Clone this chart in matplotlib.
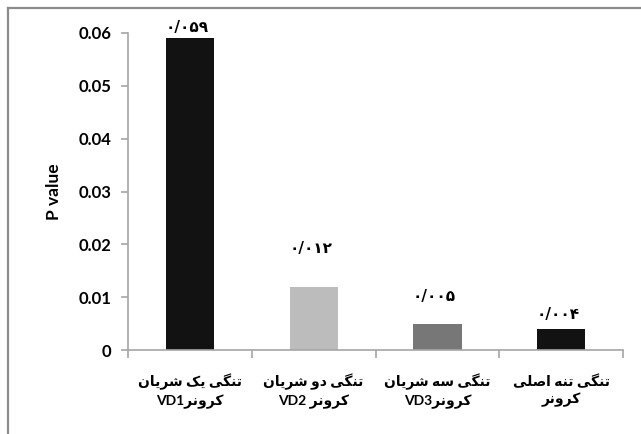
import matplotlib
matplotlib.use("Agg")
import matplotlib.pyplot as plt
from matplotlib.lines import Line2D

# data
line1 = ["تنگی یک شریان", "تنگی دو شریان", "تنگی سه شریان", "تنگی تنه اصلی"]
line2 = ["کرونرVD1", "کرونر VD2", "کرونرVD3", "کرونر"]
p_values = [0.059, 0.012, 0.005, 0.004]
value_labels = ["۰/۰۵۹", "۰/۰۱۲", "۰/۰۰۵", "۰/۰۰۴"]
bar_colors = ["#121212", "#bcbcbc", "#777777", "#121212"]
label_offsets = [2, 22, 14, 5]  # points above bar, as placed in the original

# minimal arabic shaping (isolated, final, initial, medial)
FORMS = {
    "ا": ("\uFE8D", "\uFE8E", None, None),
    "ت": ("\uFE95", "\uFE96", "\uFE97", "\uFE98"),
    "د": ("\uFEA9", "\uFEAA", None, None),
    "ر": ("\uFEAD", "\uFEAE", None, None),
    "س": ("\uFEB1", "\uFEB2", "\uFEB3", "\uFEB4"),
    "ش": ("\uFEB5", "\uFEB6", "\uFEB7", "\uFEB8"),
    "ص": ("\uFEB9", "\uFEBA", "\uFEBB", "\uFEBC"),
    "ل": ("\uFEDD", "\uFEDE", "\uFEDF", "\uFEE0"),
    "ن": ("\uFEE5", "\uFEE6", "\uFEE7", "\uFEE8"),
    "ه": ("\uFEE9", "\uFEEA", "\uFEEB", "\uFEEC"),
    "و": ("\uFEED", "\uFEEE", None, None),
    "ی": ("\uFBFC", "\uFBFD", "\uFBFE", "\uFBFF"),
    "ک": ("\uFB8E", "\uFB8F", "\uFB90", "\uFB91"),
    "گ": ("\uFB92", "\uFB93", "\uFB94", "\uFB95"),
}


def joins_next(c):
    return c in FORMS and FORMS[c][2] is not None


def shape(word):
    out = []
    for i, c in enumerate(word):
        if c not in FORMS:
            out.append(c)
            continue
        prev = word[i - 1] if i > 0 else ""
        nxt = word[i + 1] if i + 1 < len(word) else ""
        jp = joins_next(prev)
        jn = joins_next(c) and nxt in FORMS
        if jp and jn:
            out.append(FORMS[c][3])
        elif jp:
            out.append(FORMS[c][1])
        elif jn:
            out.append(FORMS[c][2])
        else:
            out.append(FORMS[c][0])
    return "".join(out)


def visual(text):
    # split into arabic / latin runs, then lay them out right to left
    runs = []
    for c in text:
        kind = "l" if c.isascii() and c != " " else "a"
        if runs and runs[-1][0] == kind:
            runs[-1][1] += c
        else:
            runs.append([kind, c])
    parts = []
    for kind, s in reversed(runs):
        parts.append(shape(s)[::-1] if kind == "a" else s)
    return "".join(parts)


plt.rcParams["font.family"] = ["Lato", "DejaVu Sans"]

fig = plt.figure(figsize=(6.41, 4.34), dpi=100)
ax = fig.add_axes([0.1997, 0.1935, 0.7723, 0.7305])

x = range(len(p_values))
ax.bar(x, p_values, width=0.39, color=bar_colors)

for xi, v, lab, off in zip(x, p_values, value_labels, label_offsets):
    ax.annotate(lab, (xi, v), xytext=(-2, off), textcoords="offset points",
                ha="center", va="bottom", fontsize=11, fontweight="bold",
                family=["DejaVu Sans"])

ax.set_xlim(-0.5, 3.5)
ax.set_ylim(0, 0.06)
ax.set_yticks([0, 0.01, 0.02, 0.03, 0.04, 0.05, 0.06])
ax.set_yticklabels(["0", "0.01", "0.02", "0.03", "0.04", "0.05", "0.06"])
ax.set_xticks(list(x))
ax.set_xticklabels([visual(a) + "\n" + visual(b) for a, b in zip(line1, line2)],
                   linespacing=1.45)
ax.set_xticks([-0.5, 0.5, 1.5, 2.5, 3.5], minor=True)

for s in ["top", "right"]:
    ax.spines[s].set_visible(False)
for s in ["left", "bottom"]:
    ax.spines[s].set_color("#a6a6a6")
    ax.spines[s].set_linewidth(1.2)

ax.tick_params(axis="y", length=5, width=1.2, color="#a6a6a6", pad=7,
               labelsize=12)
ax.tick_params(axis="x", which="major", length=0, pad=17, labelsize=10)
ax.tick_params(axis="x", which="minor", length=6, width=1.2, color="#a6a6a6")
for t in ax.get_xticklabels() + ax.get_yticklabels():
    t.set_fontweight("bold")

ax.set_ylabel("P value", fontsize=12.5, fontweight="bold", labelpad=12)

# outer frame, only top and left edge visible in the crop
fig.add_artist(Line2D([8 / 641, 1], [1 - 7.5 / 434] * 2, color="#8c8c8c", lw=1.6,
                      transform=fig.transFigure))
fig.add_artist(Line2D([8 / 641] * 2, [0, 1 - 7.5 / 434], color="#8c8c8c", lw=1.6,
                      transform=fig.transFigure))

fig.savefig("out.png", dpi=100)
